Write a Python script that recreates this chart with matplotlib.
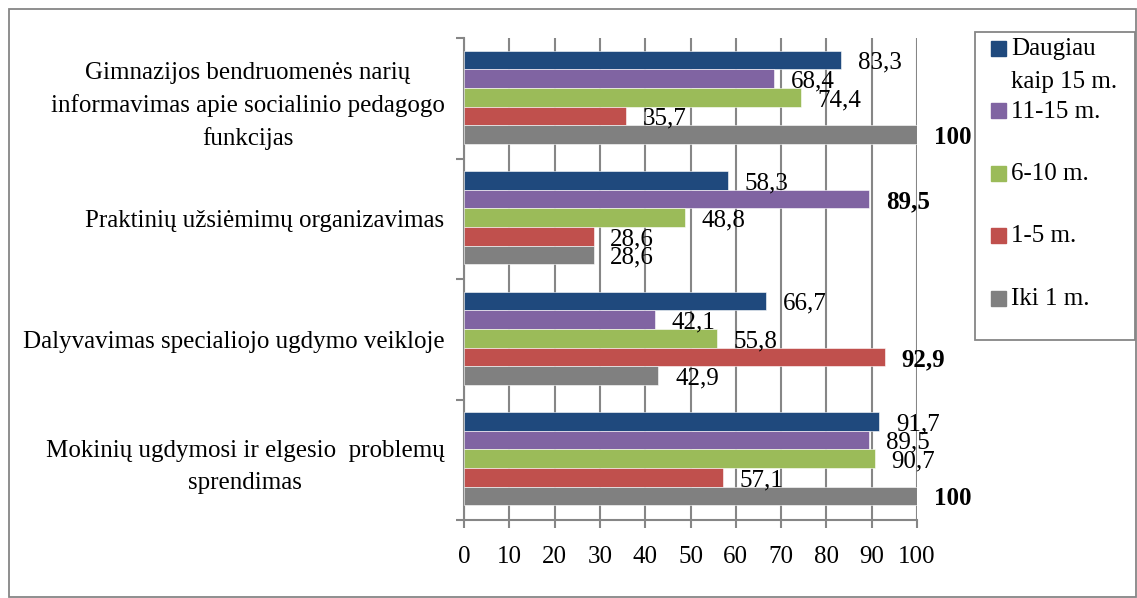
import matplotlib.pyplot as plt
from matplotlib.patches import Rectangle
import numpy as np

plt.rcParams['font.family'] = ['Liberation Serif', 'DejaVu Serif']

# Data
categories = [
    'Gimnazijos bendruomenės narių\ninformavimas apie socialinio pedagogo\nfunkcijas',
    'Praktinių užsiėmimų organizavimas',
    'Dalyvavimas specialiojo ugdymo veikloje',
    'Mokinių ugdymosi ir elgesio  problemų\nsprendimas',
]
series_labels = ['Daugiau\nkaip 15 m.', '11-15 m.', '6-10 m.', '1-5 m.', 'Iki 1 m.']
daugiau_15 = [83.3, 58.3, 66.7, 91.7]
m11_15 = [68.4, 89.5, 42.1, 89.5]
m6_10 = [74.4, 48.8, 55.8, 90.7]
m1_5 = [35.7, 28.6, 92.9, 57.1]
iki_1 = [100, 28.6, 42.9, 100]
series_values = [daugiau_15, m11_15, m6_10, m1_5, iki_1]
colors = ['#1F497D', '#8064A2', '#9BBB59', '#C0504D', '#808080']
x_ticks = list(range(0, 101, 10))

W, H = 1137, 598
FS = 18
fig = plt.figure(figsize=(W / 100, H / 100), dpi=100)
ax = fig.add_axes([464 / W, 1 - 520 / H, (917 - 464) / W, (520 - 38) / H])

grey = '#868686'
bar_h = 0.1545
y = np.arange(len(categories))

# Bars, top to bottom inside each group
for j, (vals, col) in enumerate(zip(series_values, colors)):
    pos = y + (j - 2) * bar_h - 0.008
    ax.barh(pos, vals, height=bar_h, color=col, edgecolor='white', linewidth=0.4, zorder=3)
    for i, v in enumerate(vals):
        is_max = v == max(s[i] for s in series_values)
        txt = f'{v:g}'.replace('.', ',')
        ax.annotate(txt, (v, pos[i]), xytext=(12, -2), textcoords='offset points',
                    ha='left', va='center', fontsize=FS,
                    fontweight='bold' if is_max else 'normal', zorder=4)

ax.set_xlim(0, 100)
ax.set_ylim(len(categories) - 0.5, -0.5)
ax.set_xticks(x_ticks)
ax.tick_params(axis='x', labelsize=FS, length=6, width=1.5, color=grey, pad=13)

ax.set_yticks(y)
ax.set_yticklabels(categories, fontsize=FS, multialignment='center', linespacing=1.55)
ax.set_yticks(np.arange(-0.5, len(categories)), minor=True)
ax.tick_params(axis='y', which='major', length=0, pad=14)
ax.tick_params(axis='y', which='minor', length=6, width=1.5, color=grey)

ax.grid(axis='x', color=grey, linewidth=1.5, zorder=0)
ax.set_axisbelow(True)
for s in ['top', 'right']:
    ax.spines[s].set_visible(False)
for s in ['left', 'bottom']:
    ax.spines[s].set_color(grey)
    ax.spines[s].set_linewidth(1.5)

# Legend box drawn by hand so entries keep Excel's spacing
fig.patches.append(Rectangle((975 / W, 1 - 340 / H), 160 / W, 308 / H,
                             transform=fig.transFigure, fill=False,
                             edgecolor=grey, linewidth=1.3))
for j, (lab, col) in enumerate(zip(series_labels, colors)):
    yc = 48 + 62.5 * j
    fig.patches.append(Rectangle((991 / W, 1 - (yc + 7.5) / H), 15 / W, 15 / H,
                                 transform=fig.transFigure, color=col))
    for k, line in enumerate(lab.split('\n')):
        fig.text(1011 / W, 1 - (yc + 1 + 33 * k) / H, line, fontsize=FS,
                 ha='left', va='center')

# Outer chart frame
fig.patches.append(Rectangle((9 / W, 1 / H), (W - 10) / W, (H - 10) / H,
                             transform=fig.transFigure, fill=False,
                             edgecolor=grey, linewidth=1.3))

fig.savefig('out.png', dpi=100)
